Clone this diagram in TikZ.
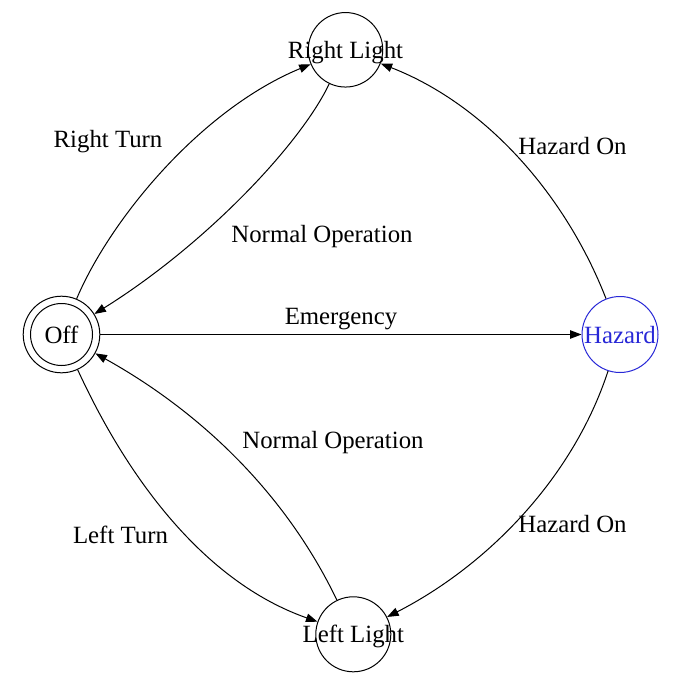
\documentclass[tikz,border=0pt]{standalone}
\usepackage{fontspec}
\setmainfont{Liberation Serif}
\usetikzlibrary{arrows.meta}
\definecolor{hazardblue}{RGB}{40,40,215}
\tikzset{
  statenode/.style={circle, draw=black, line width=1pt, inner sep=0pt, fill=white},
  statetext/.style={inner sep=0pt, text height=17pt, text depth=0pt, font=\fontsize{24.8}{28}\selectfont},
  edgelabel/.style={inner sep=0pt, anchor=base, font=\fontsize{24.8}{28}\selectfont},
  trans/.style={line width=1pt, -{Triangle[length=11.5pt,width=8.5pt]}}
}
\begin{document}
\begin{tikzpicture}[x=1pt,y=-1pt]
\useasboundingbox (0,0) rectangle (679,695);
\fill[white] (0,0) rectangle (679,695);

\node[statenode, minimum size=76.6pt, label={[statetext]center:Off}] (off) at (61.5,334.5) {};
\draw[line width=1pt] (off.center) circle[radius=31pt];
\node[statenode, minimum size=74.5pt, label={[statetext]center:Right Light}] (rl) at (345.5,49.8) {};
\node[statenode, minimum size=75pt, label={[statetext]center:Left Light}] (ll) at (353.3,634.3) {};
\node[statenode, draw=hazardblue, minimum size=76pt, label={[statetext, text=hazardblue]center:Hazard}] (hz) at (620,334.5) {};

\draw[trans] (off) .. controls (110,220) and (200,110) .. (rl);
\draw[trans] (rl) .. controls (300,145) and (205,245) .. (off);
\draw[trans] (off) -- (hz);
\draw[trans] (hz) .. controls (566,196) and (487,105) .. (rl);
\draw[trans] (hz) .. controls (573,478) and (487.5,565.6) .. (ll);
\draw[trans] (off) .. controls (126,475) and (202,581) .. (ll);
\draw[trans] (ll) .. controls (285,492) and (199,411) .. (off);

\node[edgelabel] (lrt) at (108,148) {Right Turn};
\node[edgelabel] (lno1) at (322,242) {Normal Operation};
\node[edgelabel] (lem) at (341,324) {Emergency};
\node[edgelabel] (lho1) at (572.5,155) {Hazard On};
\node[edgelabel] (lho2) at (572.5,532) {Hazard On};
\node[edgelabel] (llt) at (120.5,543) {Left Turn};
\node[edgelabel] (lno2) at (333,448) {Normal Operation};
\end{tikzpicture}
\end{document}
